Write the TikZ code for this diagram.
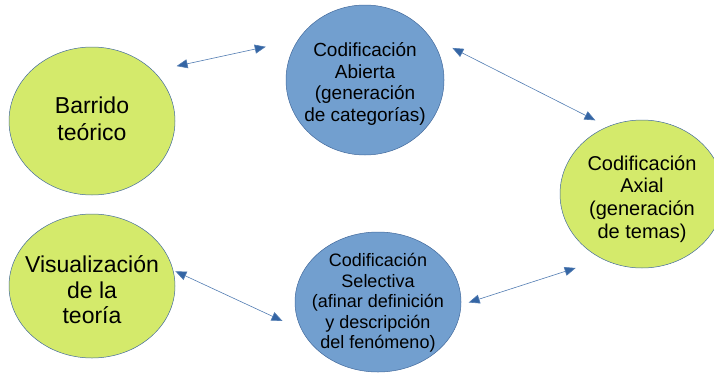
\documentclass[tikz,border=0pt]{standalone}
\usepackage{fontspec}
\setmainfont{Liberation Sans}
\usetikzlibrary{arrows.meta,shapes.geometric}
\definecolor{limefill}{HTML}{D4EA6B}
\definecolor{skyfill}{HTML}{729FCF}
\definecolor{edgeblue}{HTML}{3465A4}
\begin{document}
\begin{tikzpicture}[x=1pt,y=-1pt,
  bubble/.style={ellipse, draw=edgeblue!80!gray, line width=0.5pt, inner sep=0pt},
  greenbub/.style={bubble, fill=limefill},
  bluebub/.style={bubble, fill=skyfill},
  label/.style={inner sep=0pt, align=center, text=black},
  link/.style={draw=edgeblue!85!white, line width=0.6pt,
    {Triangle[length=11pt,width=9pt,fill=edgeblue]}-{Triangle[length=11pt,width=9pt,fill=edgeblue]}}]
\useasboundingbox (0,0) rectangle (714,372);
\clip (0,0) rectangle (714,372);

% ellipses
\node[greenbub, minimum width=166pt, minimum height=148pt] (bar) at (92,121) {};
\node[greenbub, minimum width=166pt, minimum height=144pt] (vis) at (92,286) {};
\node[bluebub, minimum width=158pt, minimum height=150pt] (abi) at (365,80) {};
\node[greenbub, minimum width=164pt, minimum height=148pt] (axi) at (642,194) {};
\node[bluebub, minimum width=166pt, minimum height=140pt] (sel) at (378,302) {};

% texts
\node[label, font=\fontsize{23pt}{26.5pt}\selectfont] (bart) at (92,119) {Barrido\\teórico};
\node[label, font=\fontsize{23pt}{25.5pt}\selectfont] (vist) at (92,290) {Visualización\\de la\\teoría};
\node[label, font=\fontsize{19pt}{21.7pt}\selectfont] (abit) at (365,84) {Codificación\\Abierta\\(generación\\de categorías)};
\node[label, font=\fontsize{20pt}{22.7pt}\selectfont] (axit) at (642,199) {Codificación\\Axial\\(generación\\de temas)};
\node[label, font=\fontsize{18pt}{20.4pt}\selectfont] (selt) at (378,303) {Codificación\\Selectiva\\(afinar definición\\y descripción\\del fenómeno)};

% connectors
\draw[link, shorten <=23.5pt, shorten >=33pt] (bar.39.3) -- (abi.149.1);
\draw[link, shorten <=25.5pt, shorten >=13.7pt] (abi.34.1) -- (axi.117.5);
\draw[link, shorten <=7.9pt, shorten >=28.5pt] (sel.-2.6) -- (axi.239.7);
\draw[link, shorten <=2.4pt, shorten >=21pt] (vis.11.9) -- (sel.200.8);
\end{tikzpicture}
\end{document}
